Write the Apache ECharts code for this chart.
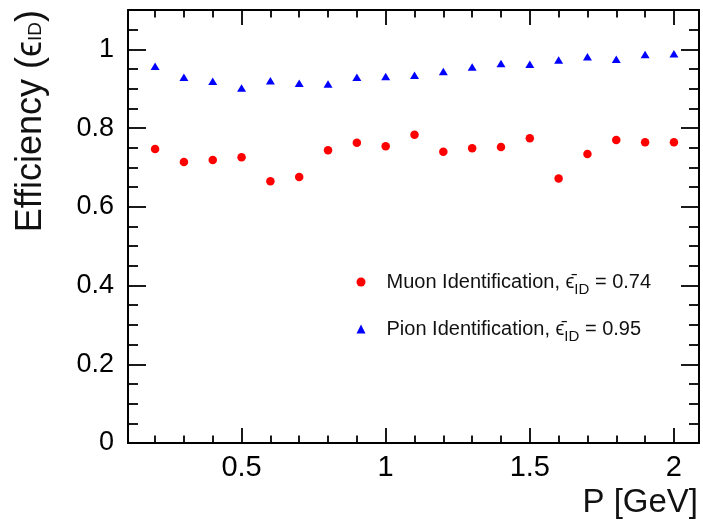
<!DOCTYPE html>
<html>
<head>
<meta charset="utf-8">
<script src="https://cdn.jsdelivr.net/npm/echarts@6/dist/echarts.min.js"></script>
<style>
html,body{margin:0;padding:0;background:#fff;}
#chart{width:703px;height:525px;}
</style>
</head>
<body>
<div id="chart"></div>
<script>
// ---- data ----
const momentum = [0.2, 0.3, 0.4, 0.5, 0.6, 0.7, 0.8, 0.9, 1.0, 1.1, 1.2, 1.3, 1.4, 1.5, 1.6, 1.7, 1.8, 1.9, 2.0];
const muonEff = [0.747, 0.714, 0.719, 0.726, 0.665, 0.676, 0.744, 0.763, 0.754, 0.783, 0.740, 0.749, 0.752, 0.774, 0.672, 0.734, 0.770, 0.764, 0.764];
const pionEff = [0.957, 0.929, 0.919, 0.902, 0.920, 0.914, 0.912, 0.929, 0.931, 0.934, 0.944, 0.955, 0.964, 0.962, 0.973, 0.981, 0.975, 0.987, 0.989];
const seriesNames = ['Muon Identification', 'Pion Identification'];
const meanEff = ['0.74', '0.95'];
const xMajorTicks = [0.5, 1, 1.5, 2];
const xMinorTicks = [0.2, 0.3, 0.4, 0.6, 0.7, 0.8, 0.9, 1.1, 1.2, 1.3, 1.4, 1.6, 1.7, 1.8, 1.9];
const xRange = [0.106, 2.087];
const yRange = [0, 1.1];
const yInterval = 0.2;
const xTitle = 'P [GeV]';
const yTitle = 'Efficiency ({e|ϵ}{s|ID})';

// ---- chart ----
const FONT = '"Liberation Sans", Arial, Helvetica, sans-serif';
const chart = echarts.init(document.getElementById('chart'), null, {renderer: 'canvas'});

function xAxisDef(pos, major, labels) {
  return {
    type: 'value', position: pos, min: xRange[0], max: xRange[1],
    axisLine: {show: major, onZero: false, lineStyle: {color: '#000', width: 2}},
    axisTick: {show: true, inside: true, length: major ? 15 : 7.5,
      customValues: major ? xMajorTicks : xMinorTicks,
      lineStyle: {color: '#000', width: 1.8}},
    axisLabel: labels ? {show: true, customValues: xMajorTicks, fontSize: 29, fontFamily: FONT,
      color: '#000', margin: 10, formatter: v => String(v)} : {show: false},
    splitLine: {show: false}
  };
}
function yAxisDef(pos, labels) {
  return {
    type: 'value', position: pos, min: yRange[0], max: yRange[1], interval: yInterval,
    axisLine: {show: true, onZero: false, lineStyle: {color: '#000', width: 2}},
    axisTick: {show: true, inside: true, length: 18, lineStyle: {color: '#000', width: 1.8}},
    minorTick: {show: true, splitNumber: 4, length: 10, lineStyle: {color: '#000', width: 1.8}},
    axisLabel: labels ? {show: true, fontSize: 27, fontFamily: FONT, color: '#000', margin: 14,
      showMaxLabel: false,
      formatter: v => (v > 1.05 ? '' : (Math.abs(v - Math.round(v)) < 1e-9 ? String(Math.round(v)) : v.toFixed(1)))} : {show: false},
    splitLine: {show: false}
  };
}

const legendRich = {
  g: {width: 16},
  e: {fontSize: 20, fontFamily: FONT, color: '#111'},
  s: {fontSize: 15, fontFamily: FONT, color: '#111', padding: [16, 0, 0, 0]},
  t: {fontSize: 20, fontFamily: FONT, color: '#111'}
};
function legendDef(i, icon, top) {
  return {
    show: true, orient: 'vertical', left: 356.5, top: top, padding: 0,
    itemWidth: 9, itemHeight: 9,
    data: [{name: seriesNames[i], icon: icon}],
    formatter: name => '{g|}' + name + ', {e|ϵ\u0304}{s|ID}{t| = ' + meanEff[i] + '}',
    textStyle: {fontSize: 20, fontFamily: FONT, color: '#111', rich: legendRich},
    selectedMode: false
  };
}

const option = {
  backgroundColor: '#fff',
  animation: false,
  grid: {left: 128, right: 4, top: 10, bottom: 82, containLabel: false},
  xAxis: [
    xAxisDef('bottom', true, true),
    xAxisDef('top', true, false),
    xAxisDef('bottom', false, false),
    xAxisDef('top', false, false)
  ],
  yAxis: [
    yAxisDef('left', true),
    yAxisDef('right', false)
  ],
  legend: [
    legendDef(0, 'circle', 272),
    legendDef(1, 'triangle', 319)
  ],
  series: [
    {
      name: seriesNames[0], type: 'scatter', xAxisIndex: 0, yAxisIndex: 0,
      symbol: 'circle', symbolSize: 8.5,
      itemStyle: {color: '#ff0000', opacity: 1},
      data: momentum.map((x, k) => [x, muonEff[k]])
    },
    {
      name: seriesNames[1], type: 'scatter', xAxisIndex: 0, yAxisIndex: 0,
      symbol: 'triangle', symbolSize: [9, 7.5],
      itemStyle: {color: '#0000ff', opacity: 1},
      data: momentum.map((x, k) => [x, pionEff[k]])
    }
  ],
  graphic: [
    {
      type: 'text', x: 31, y: 10, rotation: Math.PI / 2,
      style: {
        text: yTitle, fontSize: 36, fontFamily: FONT, fill: '#111',
        align: 'right', verticalAlign: 'middle', textAlign: 'right', textVerticalAlign: 'middle',
        rich: {
          e: {fontSize: 36, fontFamily: FONT, fill: '#111'},
          s: {fontSize: 19, fontFamily: FONT, fill: '#111', padding: [10, 0, 0, 0]}
        }
      }
    },
    {
      type: 'text', x: 698, y: 503,
      style: {
        text: xTitle, fontSize: 33, fontFamily: FONT, fill: '#111',
        align: 'right', verticalAlign: 'middle', textAlign: 'right', textVerticalAlign: 'middle'
      }
    }
  ]
};
chart.setOption(option);
</script>
</body>
</html>
